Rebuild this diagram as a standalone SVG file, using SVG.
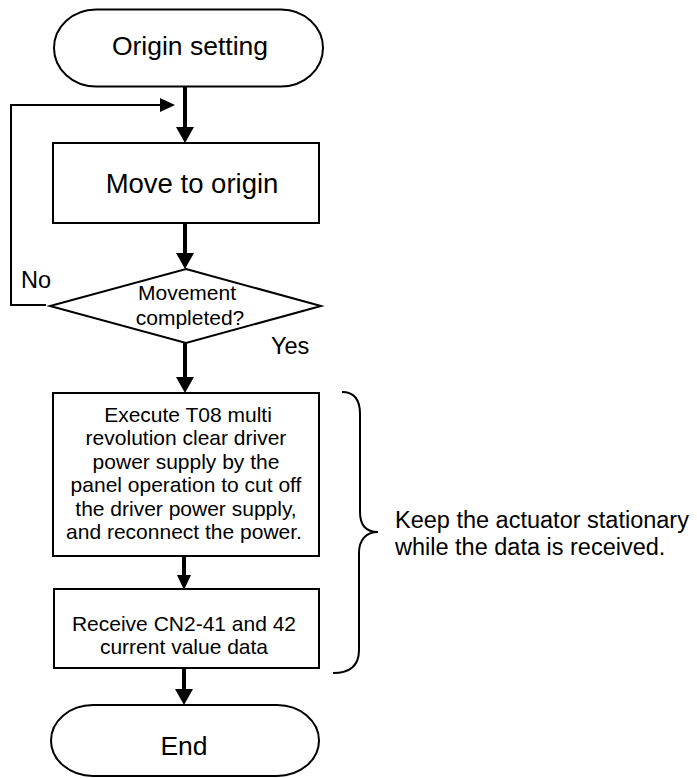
<svg xmlns="http://www.w3.org/2000/svg" width="697" height="778" viewBox="0 0 697 778">
<style>
.shape{fill:#fff;stroke:#000;stroke-width:2}
.t{font-family:"Liberation Sans",Arial,sans-serif;fill:#000;text-anchor:middle}
.big{font-size:26.5px}
.mid{font-size:21px}
.lab{font-family:"Liberation Sans",Arial,sans-serif;fill:#000;font-size:23.5px}
.thick{stroke:#000;stroke-width:4;fill:none}
.thin{stroke:#000;stroke-width:2;fill:none}
</style>
<defs>
<marker id="ah" markerUnits="userSpaceOnUse" markerWidth="16" markerHeight="18" refX="0" refY="9" orient="auto">
<path d="M0,0 L16,9 L0,18 z" fill="#000"/>
</marker>
<marker id="ahs" markerUnits="userSpaceOnUse" markerWidth="15" markerHeight="14" refX="0" refY="7" orient="auto">
<path d="M0,0 L15,7 L0,14 z" fill="#000"/>
</marker>
</defs>
<g id="start">
<path class="shape" d="M96,9.5 L281,9.5 A42,38.5 0 0 1 281,86.5 L96,86.5 A42,38.5 0 0 1 96,9.5 z"/>
<text class="t big" x="190" y="55">Origin setting</text>
</g>
<g id="move">
<rect class="shape" x="53" y="143" width="266" height="80"/>
<text class="t big" x="192" y="193" style="font-size:27.5px">Move to origin</text>
</g>
<g id="decision">
<polygon class="shape" points="186,269 321,306 186,343 50,306"/>
<text class="t mid" x="187" y="300">Movement</text>
<text class="t mid" x="190" y="325">completed?</text>
</g>
<g id="execute">
<rect class="shape" x="53" y="393" width="266" height="163"/>
<text class="t mid" x="188" y="421.5">Execute T08 multi</text>
<text class="t mid" x="186" y="445">revolution clear driver</text>
<text class="t mid" x="186" y="468.5">power supply by the</text>
<text class="t mid" x="186" y="492">panel operation to cut off</text>
<text class="t mid" x="186" y="515.5">the driver power supply,</text>
<text class="t mid" x="184" y="539">and reconnect the power.</text>
</g>
<g id="receive">
<rect class="shape" x="54" y="589" width="265" height="79"/>
<text class="t mid" x="184" y="630.5">Receive CN2-41 and 42</text>
<text class="t mid" x="184" y="654">current value data</text>
</g>
<g id="end">
<path class="shape" d="M93,705 L277,705 A42,35.5 0 0 1 277,776 L93,776 A42,35.5 0 0 1 93,705 z"/>
<text class="t big" x="184" y="755">End</text>
</g>
<g id="brace">
<path class="thin" d="M342,392 C355,392 360,400 360,414 L360,512 C360,525 366,532 378,532 C366,532 359,540 359,553 L359,650 C359,665 350,673 333,673"/>
<text class="lab" x="395" y="528">Keep the actuator stationary</text>
<text class="lab" x="395" y="555">while the data is received.</text>
</g>
<g id="labels">
<text class="lab" x="21" y="288">No</text>
<text class="lab" x="271" y="354">Yes</text>
</g>
<g id="connectors">
<line class="thick" x1="185" y1="86" x2="185" y2="127" marker-end="url(#ah)"/>
<line class="thick" x1="185" y1="223" x2="185" y2="253" marker-end="url(#ah)"/>
<line class="thick" x1="185" y1="343" x2="185" y2="377" marker-end="url(#ah)"/>
<line class="thick" x1="184" y1="556" x2="184" y2="575" marker-end="url(#ahs)"/>
<line class="thick" x1="184" y1="668" x2="184" y2="689" marker-end="url(#ah)"/>
<polyline class="thin" points="46,305 11,305 11,105 160,105" marker-end="url(#ahs)"/>
</g>
</svg>
